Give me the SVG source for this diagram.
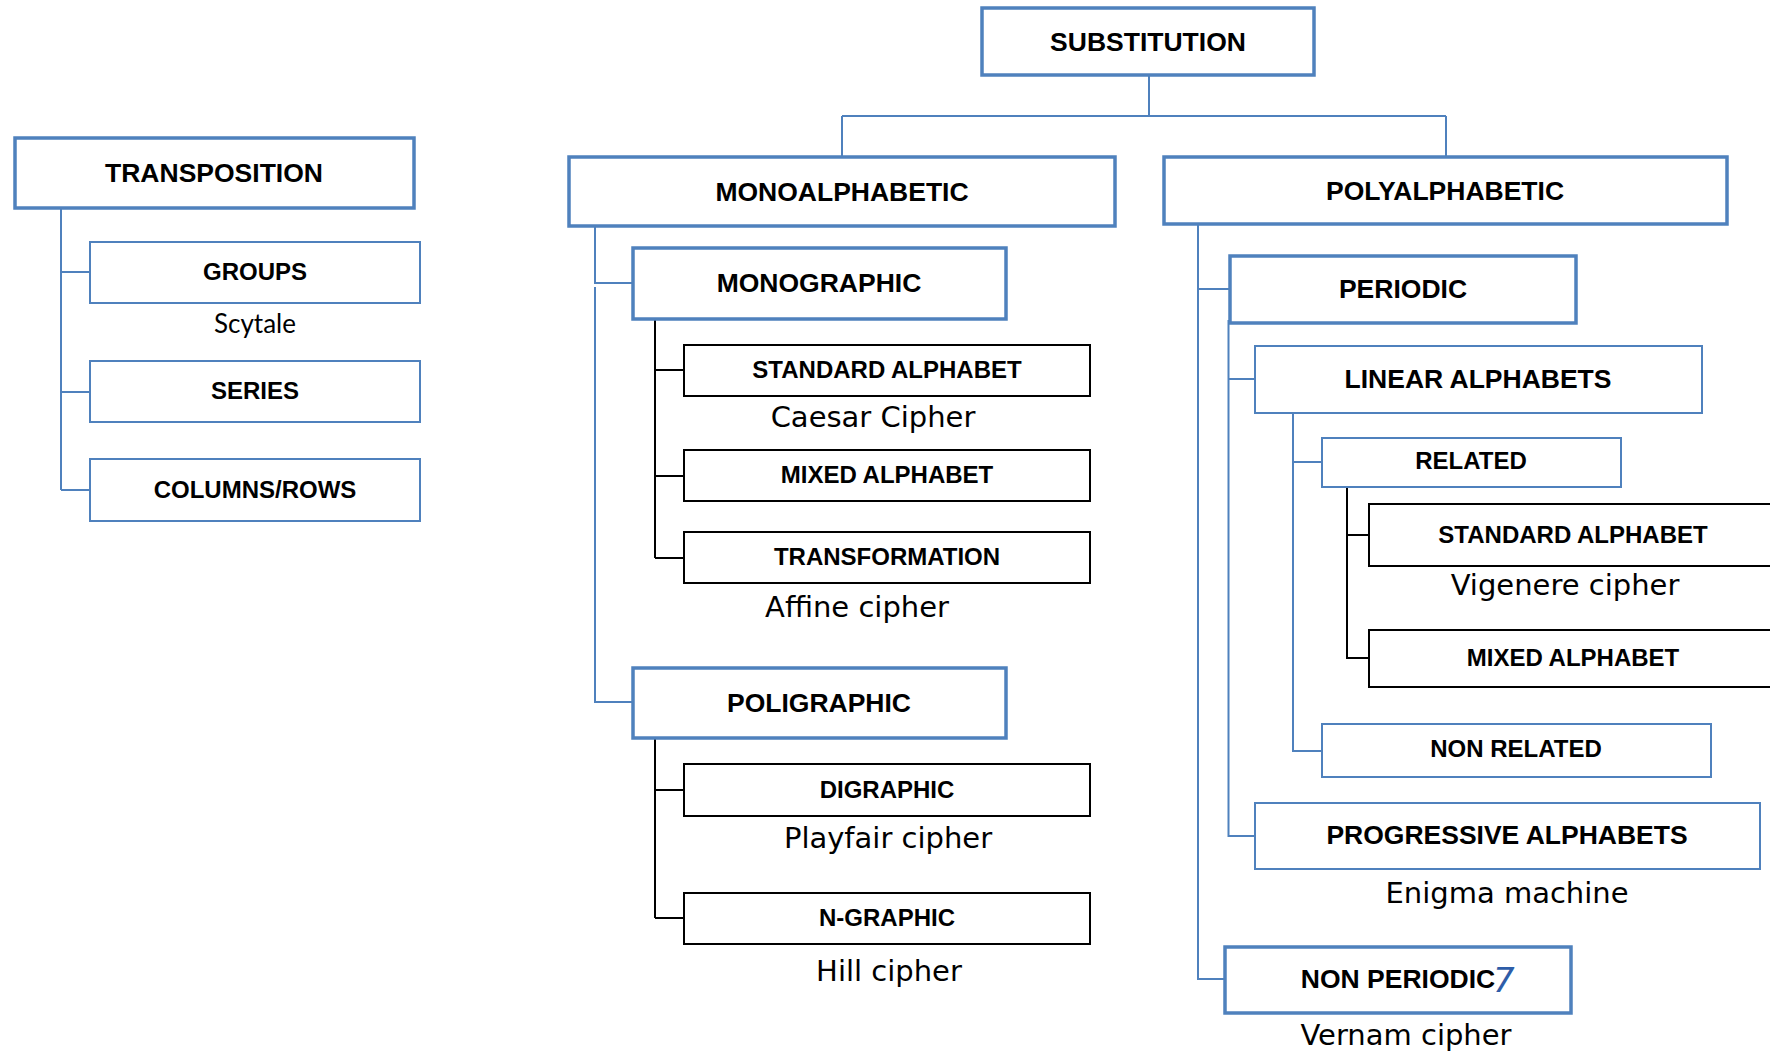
<svg xmlns="http://www.w3.org/2000/svg" width="1770" height="1052" viewBox="0 0 1770 1052">
<style>
.bt{fill:#fff;stroke:#4F81BD;stroke-width:3.5}
.bn{fill:#fff;stroke:#4F81BD;stroke-width:2}
.bk{fill:#fff;stroke:#000;stroke-width:2}
.cb{fill:none;stroke:#4F81BD;stroke-width:2}
.ck{fill:none;stroke:#000;stroke-width:2}
.L{font-family:"Liberation Sans",Arial,sans-serif;font-weight:bold;font-size:26.5px;fill:#000;text-anchor:middle}
.S{font-family:"Liberation Sans",Arial,sans-serif;font-weight:bold;font-size:24px;fill:#000;text-anchor:middle}
.C{font-family:"DejaVu Sans",sans-serif;font-size:29px;fill:#000;text-anchor:middle}
</style>
<rect width="1770" height="1052" fill="#fff"/>
<g id="connectors">
<path class="cb" d="M61 208V490M61 272H90M61 392H90M61 490H90"/>
<path class="cb" d="M1149 75V116M842 116H1446M842 116V157M1446 116V157"/>
<path class="cb" d="M595 226V283H633M595 287V702H633"/>
<path class="ck" d="M655 319V558M655 370H684M655 476H684M655 558H684"/>
<path class="ck" d="M655 738V918M655 790H684M655 918H684"/>
<path class="cb" d="M1198 224V979H1225M1198 289H1230"/>
<path class="cb" d="M1228.5 320V836H1255M1228.5 379H1255"/>
<path class="cb" d="M1293 413V751H1322M1293 462H1322"/>
<path class="ck" d="M1347 487V658H1369M1347 535H1369"/>
</g>
<g id="transposition"><rect class="bt" x="15" y="138" width="399" height="70"/><text class="L" x="214" y="182">TRANSPOSITION</text></g>
<g id="groups"><rect class="bn" x="90" y="242" width="330" height="61"/><text class="S" x="255" y="280">GROUPS</text></g>
<text x="255" y="333" font-family="Lato,sans-serif" font-size="26" text-anchor="middle">Scytale</text>
<g id="series"><rect class="bn" x="90" y="361" width="330" height="61"/><text class="S" x="255" y="399">SERIES</text></g>
<g id="columns"><rect class="bn" x="90" y="459" width="330" height="62"/><text class="S" x="255" y="498">COLUMNS/ROWS</text></g>

<g id="substitution"><rect class="bt" x="982" y="8" width="332" height="67"/><text class="L" x="1148" y="51">SUBSTITUTION</text></g>
<g id="monoalphabetic"><rect class="bt" x="569" y="157" width="546" height="69"/><text class="L" x="842" y="201">MONOALPHABETIC</text></g>
<g id="polyalphabetic"><rect class="bt" x="1164" y="157" width="563" height="67"/><text class="L" x="1445" y="200">POLYALPHABETIC</text></g>

<g id="monographic"><rect class="bt" x="633" y="248" width="373" height="71"/><text class="L" x="819" y="292">MONOGRAPHIC</text></g>
<g id="std-mono"><rect class="bk" x="684" y="345" width="406" height="51"/><text class="S" x="887" y="378">STANDARD ALPHABET</text></g>
<text class="C" x="873" y="427">Caesar Cipher</text>
<g id="mixed-mono"><rect class="bk" x="684" y="450" width="406" height="51"/><text class="S" x="887" y="483">MIXED ALPHABET</text></g>
<g id="transformation"><rect class="bk" x="684" y="532" width="406" height="51"/><text class="S" x="887" y="565">TRANSFORMATION</text></g>
<text class="C" x="857" y="617">Affine cipher</text>

<g id="poligraphic"><rect class="bt" x="633" y="668" width="373" height="70"/><text class="L" x="819" y="712">POLIGRAPHIC</text></g>
<g id="digraphic"><rect class="bk" x="684" y="764" width="406" height="52"/><text class="S" x="887" y="798">DIGRAPHIC</text></g>
<text class="C" x="888" y="848">Playfair cipher</text>
<g id="ngraphic"><rect class="bk" x="684" y="893" width="406" height="51"/><text class="S" x="887" y="926">N-GRAPHIC</text></g>
<text class="C" x="889" y="981">Hill cipher</text>

<g id="periodic"><rect class="bt" x="1230" y="256" width="346" height="67"/><text class="L" x="1403" y="298">PERIODIC</text></g>
<g id="linear"><rect class="bn" x="1255" y="346" width="447" height="67"/><text class="L" x="1478" y="388">LINEAR ALPHABETS</text></g>
<g id="related"><rect class="bn" x="1322" y="438" width="299" height="49"/><text class="S" x="1471" y="469">RELATED</text></g>
<g id="std-poly"><rect class="bk" x="1369" y="504" width="420" height="62"/><text class="S" x="1573" y="543">STANDARD ALPHABET</text></g>
<text class="C" x="1565" y="595">Vigenere cipher</text>
<g id="mixed-poly"><rect class="bk" x="1369" y="630" width="420" height="57"/><text class="S" x="1573" y="666">MIXED ALPHABET</text></g>
<g id="nonrelated"><rect class="bn" x="1322" y="724" width="389" height="53"/><text class="S" x="1516" y="757">NON RELATED</text></g>
<g id="progressive"><rect class="bn" x="1255" y="803" width="505" height="66"/><text class="L" x="1507" y="844">PROGRESSIVE ALPHABETS</text></g>
<text class="C" x="1507" y="903">Enigma machine</text>
<g id="nonperiodic"><rect class="bt" x="1225" y="947" width="346" height="66"/><text class="L" x="1398" y="988">NON PERIODIC</text><text x="1493" y="992" font-family="DejaVu Sans,sans-serif" font-style="italic" font-size="34" fill="#2E5DA8">7</text></g>
<text class="C" x="1406" y="1045">Vernam cipher</text>
</svg>
